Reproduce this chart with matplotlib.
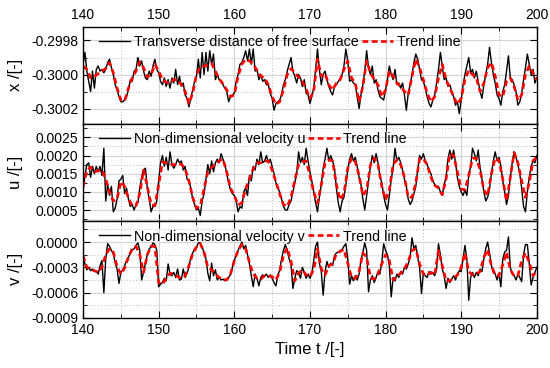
import numpy as np
import matplotlib.pyplot as plt
from matplotlib.ticker import MultipleLocator, FormatStrFormatter

plt.rcParams['font.family'] = ['Liberation Sans', 'DejaVu Sans']

# time axes
t_raw = np.linspace(140, 200, 241)    # step 0.25
t_trend = np.linspace(140, 200, 121)  # step 0.5

# x: offset from -0.3 in units of 1e-4
x_raw = [
    0.6, 1.3, 0.2, -0.4,
    -1.0, 0.2, -0.8, 0.3,
    0.5, 0.2, 0.3, 0.1,
    0.3, 0.7, 0.9, 0.4,
    0.0, -0.6, -0.9, -1.3,
    -1.6, -1.6, -1.5, -1.3,
    -0.9, -0.3, -0.4, 0.2,
    0.3, 1.0, 0.5, 0.8,
    0.2, -0.2, -0.3, 0.2,
    -0.1, 0.5, 0.9, 0.3,
    0.1, -0.4, -0.6, -0.2,
    -0.7, -0.3, -0.8, -0.2,
    -0.5, 0.3, -0.6, -0.1,
    -0.7, -0.5, -1.2, -1.4,
    -1.9, -1.4, -0.9, -0.4,
    -0.1, 0.9, -0.2, 1.3,
    0.0, 1.3, 0.2, 1.4,
    0.6, 1.2, -0.3, 0.0,
    -0.3, -0.4, -0.6, -0.8,
    -1.0, -1.6, -1.3, -1.2,
    -1.1, -0.4, 0.0, 0.6,
    0.7, 1.0, 1.4, 0.8,
    1.5, 0.6, 1.5, 0.2,
    0.3, -0.3, 0.0, -0.4,
    -0.3, -0.6, -0.6, -1.1,
    -1.4, -2.1, -1.7, -1.6,
    -1.5, -1.2, -0.6, -0.3,
    0.2, 0.6, 1.0, 0.2,
    -0.1, -0.5, 0.0, -0.2,
    -0.7, -0.3, -1.1, -1.2,
    -1.7, -1.3, -0.8, 0.3,
    1.5, 0.3, -0.6, 0.0,
    0.2, -0.3, -0.7, -1.0,
    -1.2, -0.7, -0.6, -0.4,
    -0.3, 0.0, 0.5, 1.5,
    0.8, -0.4, -0.3, -0.5,
    -0.6, -1.3, -2.0, -1.2,
    -0.6, 0.2, 1.4, 0.4,
    0.0, 0.5, -0.5, -0.3,
    -0.9, -1.3, -1.4, -1.5,
    -0.9, -0.3, 0.5, 0.0,
    -0.3, 0.3, -0.6, -0.5,
    -0.8, -0.5, -1.2, -2.1,
    -1.1, -0.6, 0.0, 0.7,
    1.2, 0.9, 0.3, -0.3,
    -0.4, -0.8, -1.3, -1.7,
    -1.9, -1.5, -1.2, -0.5,
    0.3, 1.3, 0.5, -0.3,
    -0.2, -0.7, -0.6, -1.0,
    -1.3, -1.8, -1.6, -2.3,
    -1.5, -0.6, 0.0, 0.5,
    1.0, 0.1, 0.3, -0.2,
    0.2, -0.4, -1.0, -1.4,
    -0.6, 0.0, 0.6, 1.6,
    0.7, 0.0, -0.5, -1.2,
    -1.4, -1.8, -1.0, -0.6,
    0.2, 1.1, -0.2, -0.3,
    -0.6, -1.0, -1.8, -1.6,
    -1.1, -0.3, 0.4, 1.2,
    0.6, 0.0, 0.3, -0.5,
    -0.2,
]
x_trend = [
    0.5, 0.3, -0.2, -0.1, 0.05, 0.2, 0.35, 0.7, 0.1, -0.8,
    -1.5, -1.55, -0.8, -0.2, 0.2, 0.75, 0.4, -0.15, 0.0, 0.6,
    0.2, -0.3, -0.45, -0.5, -0.3, -0.3, -0.6, -1.0, -1.7, -1.1,
    0.0, 0.45, 0.5, 0.55, 0.65, 0.2, -0.25, -0.55, -0.9, -1.3,
    -1.2, -0.1, 0.6, 0.9, 0.8, 0.6, 0.25, -0.1, -0.2, -0.6,
    -1.3, -1.75, -1.6, -0.9, 0.0, 0.35, 0.1, -0.15, -0.4, -0.85,
    -1.4, -1.0, 0.9, -0.1, 0.05, -0.6, -0.9, -0.5, -0.3, 0.3,
    0.8, -0.2, -0.5, -1.6, -0.7, 0.8, 0.1, -0.3, -0.6, -1.3,
    -0.9, 0.2, -0.1, -0.5, -0.7, -1.0, -1.2, -0.1, 0.9, 0.4,
    -0.3, -1.1, -1.6, -1.3, -0.2, 0.6, -0.3, -0.8, -1.3, -1.75,
    -1.4, -0.3, 0.25, 0.0, -0.2, -1.0, -0.5, 0.4, 0.7, -0.1,
    -1.2, -1.3, -0.4, -0.2, -0.7, -1.5, -1.2, 0.0, 0.5, 0.1,
    -0.3,
]

# u in units of 1e-4
u_raw = [
    10.5, 14.5, 17.5, 18.0,
    14.0, 17.0, 15.0, 17.0,
    15.5, 17.0, 14.5, 22.0,
    7.5, 12.0, 9.0, 11.5,
    4.5, 5.5, 8.0, 13.0,
    13.5, 14.5, 9.5, 11.0,
    8.0, 6.0, 6.5, 5.0,
    6.5, 7.0, 11.0, 14.0,
    16.0, 16.5, 11.0, 8.0,
    4.5, 6.0, 6.0, 7.5,
    13.0, 18.0, 20.0, 17.0,
    19.5, 16.0, 21.0, 17.5,
    16.5, 17.5, 19.0, 18.0,
    18.5, 16.0, 17.0, 13.5,
    13.0, 11.0, 8.0, 6.5,
    5.0, 5.5, 3.5, 7.5,
    9.5, 13.5, 17.5, 15.0,
    18.5, 15.5, 18.0, 19.0,
    18.0, 20.5, 19.0, 17.5,
    15.0, 12.5, 10.5, 9.5,
    9.0, 7.5, 4.5, 6.0,
    5.5, 10.0, 11.0, 9.0,
    14.5, 13.0, 17.0, 16.0,
    19.0, 17.5, 21.0, 18.0,
    18.5, 20.0, 18.0, 19.0,
    17.0, 15.0, 12.5, 11.0,
    10.0, 8.0, 6.0, 5.0,
    5.0, 6.5, 7.5, 10.0,
    12.5, 15.0, 21.0, 18.0,
    19.5, 17.5, 22.0, 18.5,
    15.5, 13.0, 10.0, 7.0,
    4.5, 8.5, 12.0, 16.5,
    19.0, 22.0, 18.5, 20.0,
    18.5, 16.5, 11.0, 7.0,
    4.5, 7.5, 8.5, 12.0,
    16.0, 19.0, 20.5, 18.5,
    19.5, 17.0, 14.0, 12.0,
    8.0, 5.0, 9.0, 13.0,
    17.0, 20.0, 18.0, 20.5,
    18.0, 14.5, 12.5, 9.0,
    6.5, 5.0, 9.0, 13.5,
    16.5, 22.0, 18.5, 19.5,
    18.0, 16.0, 13.5, 11.5,
    8.0, 6.5, 7.5, 9.5,
    11.5, 16.0, 20.0, 19.0,
    20.5, 18.5, 17.5, 16.0,
    15.0, 13.0, 12.0, 11.5,
    11.5, 10.0, 9.0, 12.0,
    14.0, 19.0, 21.5, 19.0,
    21.5, 18.0, 14.0, 11.5,
    10.0, 9.0, 10.5, 9.0,
    14.5, 17.0, 22.0, 20.5,
    18.5, 21.5, 16.5, 13.5,
    10.0, 7.5, 8.5, 11.0,
    15.0, 18.5, 21.0, 18.5,
    19.5, 17.0, 13.0, 10.0,
    6.5, 9.0, 14.0, 18.0,
    21.0, 19.5, 17.5, 15.0,
    11.0, 6.0, 4.5, 10.0,
    14.0, 17.0, 18.5, 18.0,
    20.0,
]
u_trend = [
    11.4, 15.8, 16.8, 15.5, 15.8, 16.0, 13.5, 10.0, 7.5, 8.0,
    12.8, 11.5, 8.2, 6.2, 6.2, 9.5, 16.0, 11.5, 6.5, 6.2,
    12.0, 18.2, 18.0, 17.7, 17.4, 17.8, 17.6, 16.3, 13.0, 8.5,
    5.5, 6.2, 10.8, 15.5, 16.8, 17.5, 18.5, 19.0, 15.5, 11.0,
    9.0, 6.4, 7.0, 10.8, 13.5, 16.4, 18.0, 18.0, 18.5, 18.5,
    16.0, 12.8, 9.5, 6.5, 6.0, 8.5, 13.2, 17.5, 18.2, 18.5,
    14.5, 10.0, 6.9, 11.9, 18.0, 18.8, 18.5, 12.0, 7.8, 9.5,
    16.5, 19.3, 18.3, 14.5, 9.0, 10.5, 17.5, 19.3, 17.5, 11.5,
    7.8, 10.5, 17.5, 18.8, 17.5, 14.0, 8.5, 8.5, 12.5, 19.1,
    19.1, 17.5, 14.0, 11.8, 11.0, 9.2, 13.5, 20.5, 20.0, 15.5,
    10.8, 10.5, 14.5, 19.2, 19.3, 16.0, 10.5, 9.0, 15.0, 19.3,
    18.6, 13.5, 7.5, 14.0, 20.8, 18.0, 13.0, 8.5, 12.5, 18.6,
    19.5,
]

# v in units of 1e-4
v_raw = [
    -1.5, -2.6, -3.3, -3.0,
    -3.4, -3.2, -3.5, -3.4,
    -3.8, -2.8, -2.2, -6.0,
    -2.0, -0.2, -0.5, -1.0,
    -1.4, -2.5, -3.2, -4.9,
    -3.6, -3.3, -2.8, -2.2,
    -1.8, -1.3, -0.9, -0.8,
    -0.4, -0.1, -1.0, -4.5,
    -3.6, -2.5, -1.5, -0.8,
    -0.6, -0.1, -0.3, -1.0,
    -5.3, -5.0, -4.8, -4.3,
    -4.6, -2.6, -3.8, -4.0,
    -3.6, -4.2, -3.2, -4.5,
    -4.4, -3.2, -4.2, -3.7,
    -3.0, -1.8, -1.3, -0.8,
    -0.6, -0.1, -0.1, -0.6,
    -1.3, -2.0, -3.7, -4.6,
    -2.5, -4.0, -3.3, -4.5,
    -4.2, -4.5, -4.4, -4.6,
    -4.5, -4.2, -3.8, -3.0,
    -2.2, -1.5, -1.0, -0.5,
    0.0, -0.8, -0.4, -1.5,
    -2.6, -4.0, -5.3, -3.8,
    -4.3, -5.2, -4.2, -3.9,
    -4.1, -3.8, -4.2, -3.9,
    -4.3, -4.8, -5.2, -4.0,
    -3.3, -2.0, -1.0, -0.3,
    -1.0, -2.0, -2.7, -5.5,
    -4.3, -3.4, -3.6, -4.3,
    -3.0, -3.6, -4.3, -3.8,
    -4.3, -3.8, -2.2, -0.5,
    0.0, -2.5, -3.5, -6.3,
    -3.5, -2.3, -3.0, -2.5,
    -2.8, -1.6, -1.3, -1.2,
    -1.0, -0.9, -0.5, -0.2,
    -2.0, -5.0, -4.0, -4.6,
    -4.0, -4.5, -3.8, -2.2,
    -1.2, -0.1, -1.0, -5.9,
    -4.5, -4.0, -4.8, -4.2,
    -3.5, -3.8, -2.4, -0.2,
    -1.0, -1.5, -2.8, -6.5,
    -4.2, -4.6, -3.8, -4.2,
    -3.5, -3.8, -3.0, -3.2,
    -2.6, -1.8, 0.5, -0.8,
    -0.4, -1.8, -3.0, -6.1,
    -3.6, -4.0, -4.2, -3.5,
    -3.8, -3.6, -4.0, -3.2,
    -0.2, -1.5, -3.2, -4.0,
    -5.5, -4.3, -4.8, -4.4,
    -4.0, -4.5, -3.8, -3.4,
    -3.5, -2.0, -0.4, -2.0,
    -6.9, -4.2, -3.6, -4.2,
    -3.6, -4.0, -3.2, -3.5,
    -2.0, -0.8, 0.0, -1.3,
    -2.8, -3.6, -3.8, -4.5,
    -3.7, -5.3, -2.0, -1.2,
    -1.0, 0.6, -3.0, -3.8,
    -4.0, -4.5, -3.8, -4.2,
    -4.7, -1.5, -0.3, -0.3,
    -2.5, -5.1, -4.2, -3.6,
    -3.0,
]
v_trend = [
    -1.6, -3.0, -3.2, -3.4, -3.6, -3.0, -1.5, -0.8, -1.2, -2.9,
    -3.8, -3.1, -1.8, -0.8, -0.5, -1.5, -3.6, -1.5, -0.5, -0.5,
    -4.8, -5.0, -4.3, -3.7, -3.8, -4.1, -4.3, -4.0, -2.8, -1.4,
    -0.6, -0.2, -1.2, -3.0, -3.3, -3.8, -4.2, -4.4, -4.5, -3.8,
    -2.2, -1.0, -0.3, -0.8, -2.4, -3.8, -4.3, -4.4, -4.0, -4.0,
    -4.1, -4.5, -3.6, -1.6, -0.7, -2.3, -4.6, -3.7, -3.3, -3.9,
    -4.1, -3.3, -0.8, -3.2, -3.9, -2.8, -2.6, -1.4, -1.1, -0.9,
    -2.5, -4.2, -4.3, -3.5, -1.3, -1.8, -4.2, -4.4, -3.8, -2.6,
    -1.5, -2.2, -4.5, -4.1, -3.7, -3.2, -2.3, -1.0, -0.8, -2.6,
    -3.8, -3.9, -3.6, -3.9, -1.0, -2.8, -4.6, -4.6, -4.3, -3.9,
    -3.0, -1.3, -3.5, -3.9, -3.8, -3.5, -1.8, -0.9, -2.8, -3.9,
    -4.0, -2.7, -1.2, -3.3, -4.0, -4.0, -2.2, -1.3, -2.4, -4.0,
    -3.4,
]

panels = [
    (-0.3 + np.array(x_raw) * 1e-4, -0.3 + np.array(x_trend) * 1e-4,
     'Transverse distance of free surface', 'x /[-]'),
    (np.array(u_raw) * 1e-4, np.array(u_trend) * 1e-4,
     'Non-dimensional velocity u', 'u /[-]'),
    (np.array(v_raw) * 1e-4, np.array(v_trend) * 1e-4,
     'Non-dimensional velocity v', 'v /[-]'),
]
ylims = [(-0.30029, -0.29972), (0.0002, 0.00287), (-0.0009, 0.00025)]
yticks = [[-0.3002, -0.3000, -0.2998],
          [0.0005, 0.0010, 0.0015, 0.0020, 0.0025],
          [-0.0009, -0.0006, -0.0003, 0.0]]
yminor = [0.0001, 0.00025, 0.00015]

fig, axes = plt.subplots(3, 1, sharex=True, figsize=(5.5, 3.68), dpi=100)
fig.subplots_adjust(left=0.151, right=0.976, top=0.927, bottom=0.136, hspace=0)

for i, (ax, (raw, trend, name, ylab)) in enumerate(zip(axes, panels)):
    ax.plot(t_raw, raw, color='black', lw=1.0, label=name)
    ax.plot(t_trend, trend, color='#ff0000', lw=1.9, ls=(0, (2.2, 1.3)),
            label='Trend line')
    ax.set_xlim(140, 200)
    ax.set_ylim(*ylims[i])
    ax.set_yticks(yticks[i])
    ax.yaxis.set_minor_locator(MultipleLocator(yminor[i]))
    ax.yaxis.set_major_formatter(FormatStrFormatter('%.4f'))
    ax.xaxis.set_major_locator(MultipleLocator(10))
    ax.xaxis.set_minor_locator(MultipleLocator(5))
    ax.grid(which='major', color='#d4d4d4', lw=0.8, ls='-')
    ax.grid(which='minor', color='#bdbdbd', lw=0.7, ls=(0, (1, 2)))
    ax.set_axisbelow(True)
    ax.tick_params(which='both', direction='in', top=True, right=True,
                   labelsize=10)
    ax.tick_params(which='major', length=5)
    ax.tick_params(which='minor', length=3)
    ax.set_ylabel(ylab, fontsize=12, labelpad=6)
    ax.legend(loc='upper left', bbox_to_anchor=(0.016, 1.0), frameon=False,
              ncol=2, fontsize=10.3, handlelength=2.2, handletextpad=0.25,
              columnspacing=0.2, borderaxespad=0.2)
    for s in ax.spines.values():
        s.set_linewidth(1.0)

axes[0].tick_params(labeltop=True)
axes[2].set_xlabel('Time t /[-]', fontsize=12)
fig.align_ylabels(axes)

fig.savefig('out.png', dpi=100)
